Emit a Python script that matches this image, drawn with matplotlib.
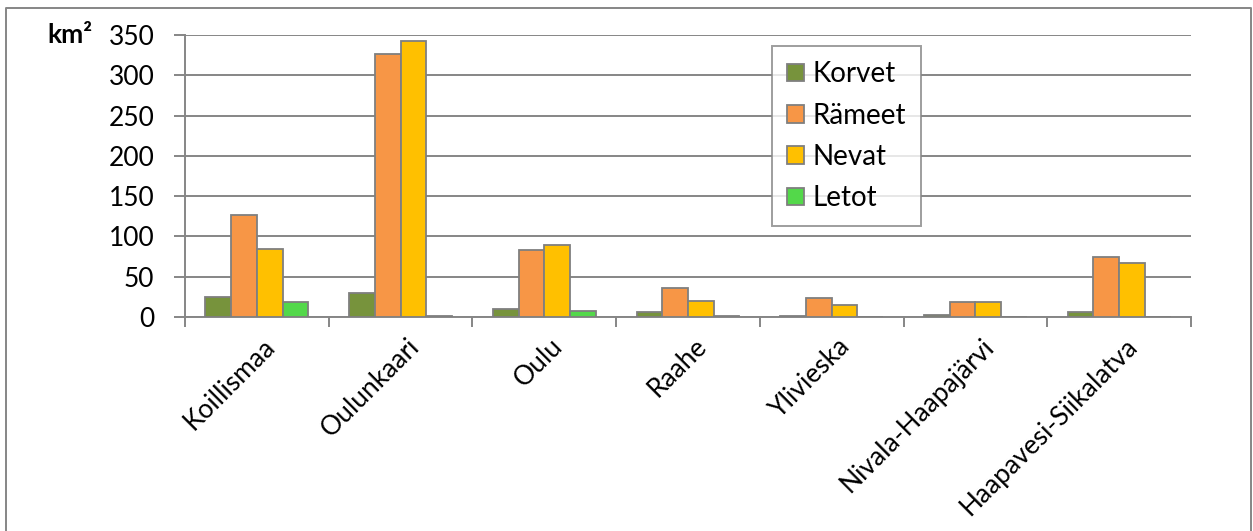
import numpy as np
import matplotlib.pyplot as plt
from matplotlib.lines import Line2D

# data
regions = ["Koillismaa", "Oulunkaari", "Oulu", "Raahe", "Ylivieska",
           "Nivala-Haapajärvi", "Haapavesi-Siikalatva"]
korvet = [25, 30, 10, 6, 1, 3, 6]
rameet = [127, 326, 83, 36, 24, 19, 75]
nevat = [84, 342, 89, 20, 15, 18, 67]
letot = [18, 1, 7, 1, 0, 0, 0]

series_names = ["Korvet", "Rämeet", "Nevat", "Letot"]
series_vals = [korvet, rameet, nevat, letot]
colors = ["#77933C", "#F79646", "#FFC000", "#53D84A"]

plt.rcParams["font.family"] = ["Lato", "DejaVu Sans"]
grey = "#868686"

fig = plt.figure(figsize=(12.53, 5.31), dpi=100)
ax = fig.add_axes([185 / 1253, 1 - 317 / 531, (1191 - 185) / 1253, (317 - 35) / 531])

x = np.arange(len(regions))
w = 0.179
for i, (name, vals, c) in enumerate(zip(series_names, series_vals, colors)):
    ax.bar(x + (i - 1.5) * w, vals, width=w, color=c, edgecolor="#7F7F7F",
           linewidth=1.3, label=name, zorder=3)

ax.set_xlim(-0.5, len(regions) - 0.5)
ax.set_ylim(0, 350)
ax.set_yticks(range(0, 351, 50))
ax.yaxis.grid(True, color=grey, linewidth=1.4, zorder=0)
ax.set_axisbelow(True)

# category boundaries as major ticks, labels on minor ticks at centres
ax.set_xticks(np.arange(-0.5, len(regions), 1.0))
ax.set_xticklabels([])
ax.set_xticks(x + 0.04, minor=True)
ax.set_xticklabels(regions, minor=True, rotation=45, ha="right",
                   rotation_mode="anchor", fontsize=19)
ax.tick_params(axis="x", which="major", length=7, width=1.4, color=grey)
ax.tick_params(axis="x", which="minor", length=0, pad=12)
ax.tick_params(axis="y", length=8, width=1.4, color=grey, labelsize=19, pad=14)

for s in ["top", "right"]:
    ax.spines[s].set_visible(False)
for s in ["left", "bottom"]:
    ax.spines[s].set_color(grey)
    ax.spines[s].set_linewidth(1.4)

ax.text(-0.0915, 1.0, "km²", transform=ax.transAxes, fontsize=19,
        fontweight="bold", ha="right", va="center")

leg = ax.legend(loc="upper left", bbox_to_anchor=((772 - 185) / 1006, 1 - (46 - 35) / 282),
                fontsize=20, frameon=True, fancybox=False, edgecolor=grey,
                handlelength=0.6, handleheight=0.6, handletextpad=0.3,
                labelspacing=0.55, borderpad=0.55, borderaxespad=0)
leg.get_frame().set_linewidth(1.4)

# outer chart border (bottom cut off)
xl, xr, yt = 6 / 1253, 1251 / 1253, 1 - 8 / 531
fig.add_artist(Line2D([xl, xl, xr, xr], [0, yt, yt, 0], transform=fig.transFigure,
                      color=grey, linewidth=1.4))

fig.savefig("out.png", dpi=100)
